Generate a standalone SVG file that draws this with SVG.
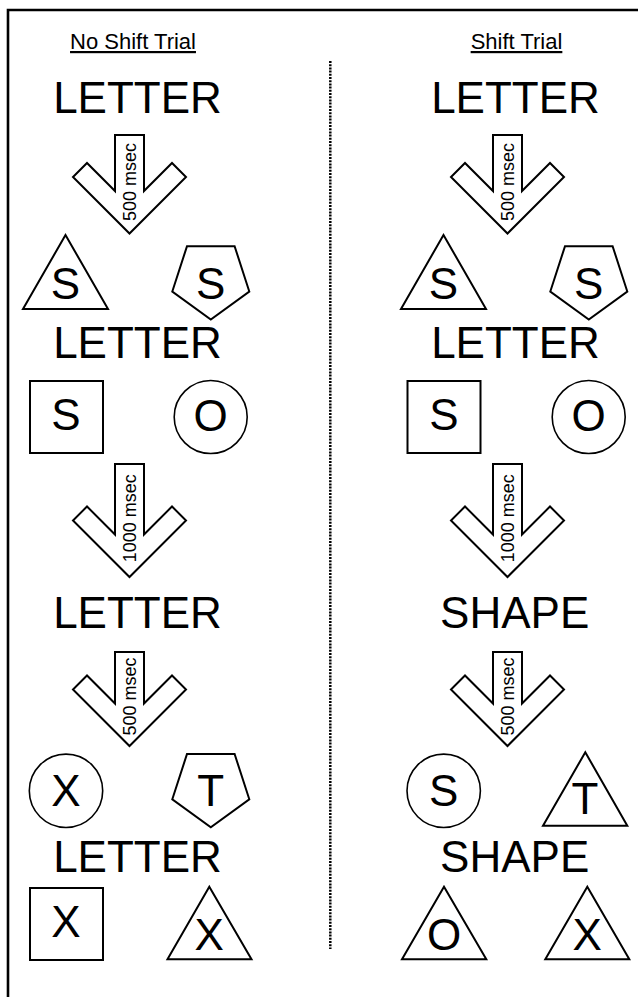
<svg xmlns="http://www.w3.org/2000/svg" width="638" height="997" viewBox="0 0 638 997">
<style>
text{font-family:"Liberation Sans",Arial,Helvetica,sans-serif;fill:#000}
.big{font-size:44px;text-anchor:middle}
.title{font-size:22px;text-anchor:middle;text-decoration:underline}
.lab{font-size:18px;text-anchor:middle}
.sh{fill:#fff;stroke:#000;stroke-width:2;stroke-linejoin:miter}
.circ{fill:#fff;stroke:#000;stroke-width:1.6}
.arrow{fill:#fff;stroke:#000;stroke-width:2;stroke-linejoin:miter}
</style>
<rect width="638" height="997" fill="#fff"/>
<path d="M8,1000 V10 H640" fill="none" stroke="#000" stroke-width="2.6"/>
<g id="connectors">
<line x1="330.3" y1="61" x2="330.3" y2="949" stroke="#000" stroke-width="2.5" stroke-dasharray="2 1.2"/>
</g>
<g id="titles">
<text class="title" x="133" y="49">No Shift Trial</text>
<text class="title" x="516.5" y="49">Shift Trial</text>
</g>
<!-- Left column -->
<g id="left-letter-1"><text class="big" x="137.5" y="113">LETTER</text></g>
<g id="left-arrow-1">
<polygon class="arrow" points="115,135 144,135 144,191 172,163 186,177 129.5,233.5 73,177 87,163 115,191"/>
<text class="lab" transform="translate(136,182) rotate(-90)">500 msec</text>
</g>
<g id="left-tri-S"><polygon class="sh" points="65.5,235 23,309 108,309"/><text class="big" x="65.5" y="299">S</text></g>
<g id="left-pent-S"><polygon class="sh" points="187,246.2 234.6,246.2 249.3,291.5 210.8,319.5 172.3,291.5"/><text class="big" x="210.8" y="299">S</text></g>
<g id="left-letter-2"><text class="big" x="137.5" y="358">LETTER</text></g>
<g id="left-sq-S"><rect class="sh" x="30" y="381" width="73" height="72"/><text class="big" x="66" y="430">S</text></g>
<g id="left-circ-O"><circle class="circ" cx="210.7" cy="417" r="36.5"/><text class="big" x="210.7" y="431">O</text></g>
<g id="left-arrow-2">
<polygon class="arrow" points="115,464 144,464 144,534.5 172,506.5 186,520.5 129.5,577 73,520.5 87,506.5 115,534.5"/>
<text class="lab" transform="translate(136,518.3) rotate(-90)">1000 msec</text>
</g>
<g id="left-letter-3"><text class="big" x="137.5" y="628.3">LETTER</text></g>
<g id="left-arrow-3">
<polygon class="arrow" points="115,652 144,652 144,703.5 172,675.5 186,689.5 129.5,746 73,689.5 87,675.5 115,703.5"/>
<text class="lab" transform="translate(136,696.5) rotate(-90)">500 msec</text>
</g>
<g id="left-circ-X"><circle class="circ" cx="66" cy="790.8" r="36.7"/><text class="big" x="66" y="806">X</text></g>
<g id="left-pent-T"><polygon class="sh" points="187,754 234.6,754 249.3,799.3 210.8,827.3 172.3,799.3"/><text class="big" x="210.8" y="806">T</text></g>
<g id="left-letter-4"><text class="big" x="137.5" y="871.7">LETTER</text></g>
<g id="left-sq-X"><rect class="sh" x="30" y="888" width="73" height="72"/><text class="big" x="66" y="937.3">X</text></g>
<g id="left-tri-X"><polygon class="sh" points="209.3,886.7 167.5,959.3 251.5,959.3"/><text class="big" x="209.3" y="950">X</text></g>
<!-- Right column -->
<g id="right-letter-1"><text class="big" x="515.5" y="113">LETTER</text></g>
<g id="right-arrow-1">
<polygon class="arrow" points="493,135 522,135 522,191 550,163 564,177 507.5,233.5 451,177 465,163 493,191"/>
<text class="lab" transform="translate(514,182) rotate(-90)">500 msec</text>
</g>
<g id="right-tri-S"><polygon class="sh" points="443.5,235 401,309 486,309"/><text class="big" x="443.5" y="299">S</text></g>
<g id="right-pent-S"><polygon class="sh" points="565,246.2 612.6,246.2 627.3,291.5 588.8,319.5 550.3,291.5"/><text class="big" x="588.8" y="299">S</text></g>
<g id="right-letter-2"><text class="big" x="515.5" y="358">LETTER</text></g>
<g id="right-sq-S"><rect class="sh" x="407.5" y="381" width="73" height="72"/><text class="big" x="444" y="430">S</text></g>
<g id="right-circ-O"><circle class="circ" cx="588.7" cy="417" r="36.5"/><text class="big" x="588.7" y="431">O</text></g>
<g id="right-arrow-2">
<polygon class="arrow" points="493,464 522,464 522,534.5 550,506.5 564,520.5 507.5,577 451,520.5 465,506.5 493,534.5"/>
<text class="lab" transform="translate(514,518.3) rotate(-90)">1000 msec</text>
</g>
<g id="right-shape-1"><text class="big" x="514.7" y="628.3">SHAPE</text></g>
<g id="right-arrow-3">
<polygon class="arrow" points="493,652 522,652 522,703.5 550,675.5 564,689.5 507.5,746 451,689.5 465,675.5 493,703.5"/>
<text class="lab" transform="translate(514,696.5) rotate(-90)">500 msec</text>
</g>
<g id="right-circ-S"><circle class="circ" cx="443.7" cy="790.8" r="36.7"/><text class="big" x="443.7" y="806">S</text></g>
<g id="right-tri-T"><polygon class="sh" points="585.3,752.3 543,825.7 627.3,825.7"/><text class="big" x="585" y="814.3">T</text></g>
<g id="right-shape-2"><text class="big" x="514.7" y="871.7">SHAPE</text></g>
<g id="right-tri-O"><polygon class="sh" points="444,886.7 402,959.3 486.3,959.3"/><text class="big" x="444" y="950">O</text></g>
<g id="right-tri-X"><polygon class="sh" points="587.3,886.7 545.3,959.3 629.3,959.3"/><text class="big" x="587.3" y="950">X</text></g>
</svg>
